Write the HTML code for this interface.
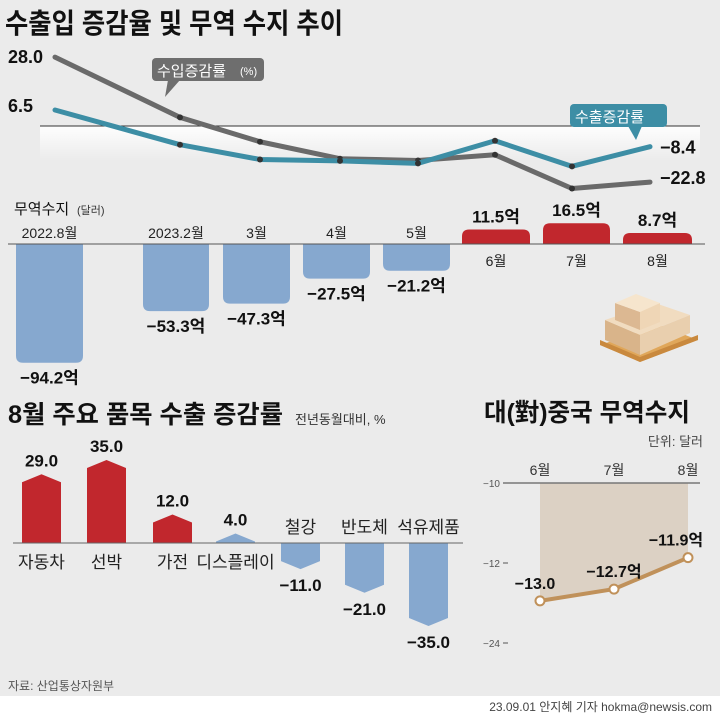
<!DOCTYPE html>
<html><head><meta charset="utf-8">
<style>
body{margin:0;width:720px;height:716px;overflow:hidden;background:#fff;font-family:"Liberation Sans","Noto Sans CJK KR",sans-serif;}
svg text{font-family:"Liberation Sans","Noto Sans CJK KR",sans-serif;}
</style></head>
<body>
<svg id="chart" width="720" height="716" viewBox="0 0 720 716">
<defs>
<linearGradient id="wg" x1="0" y1="0" x2="0" y2="1"><stop offset="0" stop-color="#fff" stop-opacity="0.95"/><stop offset="1" stop-color="#fff" stop-opacity="0"/></linearGradient>
</defs>
<rect x="0" y="0" width="720" height="696" fill="#ebebeb"/>
<text x="5" y="33" font-size="28" font-weight="bold" fill="#111" textLength="338" lengthAdjust="spacingAndGlyphs">수출입 증감율 및 무역 수지 추이</text>
<g id="topc"></g>
<g id="bal"></g>
<text x="8" y="423" font-size="25" font-weight="bold" fill="#111" textLength="275" lengthAdjust="spacingAndGlyphs">8월 주요 품목 수출 증감률</text>
<text x="295" y="424" font-size="13" fill="#333">전년동월대비, %</text>
<g id="items"></g>
<text x="484" y="421" font-size="25" font-weight="bold" fill="#111" textLength="206" lengthAdjust="spacingAndGlyphs">대(對)중국 무역수지</text>
<text x="703" y="446" font-size="13" fill="#444" text-anchor="end">단위: 달러</text>
<g id="china"></g>
<text x="8" y="690" font-size="12" fill="#555">자료: 산업통상자원부</text>
<text x="712" y="711" font-size="12" fill="#444" text-anchor="end">23.09.01 안지혜 기자 hokma@newsis.com</text>
<g>
<polygon points="600,345 640,362 698,340 660,325" fill="#e0a75a"/>
<polygon points="600,340 640,357 698,335 698,340 640,362 600,345" fill="#c9893e"/>
<polygon points="605,320 640,335 640,355 605,340" fill="#d9b48a"/>
<polygon points="640,335 690,315 690,333 640,355" fill="#e9cfae"/>
<polygon points="605,320 640,335 690,315 655,303" fill="#f1dcc0"/>
<polygon points="615,303 640,312 640,330 615,320" fill="#dcb892"/>
<polygon points="640,312 660,303 660,322 640,330" fill="#efd6b6"/>
<polygon points="615,303 640,312 660,303 636,294" fill="#f6e5cd"/>
</g>
</svg>
<script>
var months = ["2022.8월","2023.2월","3월","4월","5월","6월","7월","8월"];
var importRate = [28.0, 3.5, -6.4, -13.3, -14.0, -11.7, -25.4, -22.8];
var exportRate = [6.5, -7.6, -13.6, -14.2, -15.2, -6.0, -16.4, -8.4];
var balance = [-94.2, -53.3, -47.3, -27.5, -21.2, 11.5, 16.5, 8.7];
var balanceLabels = ["-94.2억","-53.3억","-47.3억","-27.5억","-21.2억","11.5억","16.5억","8.7억"];
var items = ["자동차","선박","가전","디스플레이","철강","반도체","석유제품"];
var itemValues = [29.0, 35.0, 12.0, 4.0, -11.0, -21.0, -35.0];
var chinaMonths = ["6월","7월","8월"];
var chinaValues = [-13.0, -12.7, -11.9];
var chinaLabels = ["-13.0","-12.7억","-11.9억"];
var chinaTicks = ["-10","-12","-24"];

var NS="http://www.w3.org/2000/svg";
function mk(tag,attrs,parent,txt){var e=document.createElementNS(NS,tag);for(var k in attrs)e.setAttribute(k,attrs[k]);if(txt!==undefined)e.textContent=txt;parent.appendChild(e);return e;}

var topG=document.getElementById('topc');
var xs=[55,180,260,340,418,495,572,650];
function xTop(i){return xs[i];}
function yTop(v){return 126 - v*2.46;}
var wr=mk('rect',{x:40,y:126,width:660,height:35,fill:'url(#wg)'},topG);


var zl=mk('line',{x1:40,y1:126,x2:700,y2:126,stroke:'#333','stroke-width':1},topG);


function series(vals,color,name){
  var pts=vals.map(function(v,i){return xTop(i)+','+yTop(v);}).join(' ');
  var pl=mk('polyline',{points:pts,fill:'none',stroke:color,'stroke-width':5,'stroke-linejoin':'round','stroke-linecap':'round'},topG);
  
  
  vals.forEach(function(v,i){if(i==0||i==vals.length-1)return;
    var c=mk('circle',{cx:xTop(i),cy:yTop(v),r:3,fill:'#333'},topG);
    
    });
}
series(importRate,'#6a6a6a','import-rate');
series(exportRate,'#3d8ea5','export-rate');
var t;
t=mk('text',{x:8,y:yTop(importRate[0])+6,'font-size':18,'font-weight':'bold',fill:'#111'},topG,importRate[0].toFixed(1));


t=mk('text',{x:8,y:yTop(exportRate[0])+2,'font-size':18,'font-weight':'bold',fill:'#111'},topG,exportRate[0].toFixed(1));


t=mk('text',{x:660,y:yTop(exportRate[7])+7,'font-size':18,'font-weight':'bold',fill:'#111'},topG,'−'+Math.abs(exportRate[7]).toFixed(1));


t=mk('text',{x:660,y:yTop(importRate[7])+2,'font-size':18,'font-weight':'bold',fill:'#111'},topG,'−'+Math.abs(importRate[7]).toFixed(1));


var g1=mk('g',{},topG);


mk('rect',{x:152,y:58,width:112,height:23,rx:4,fill:'#6e6e6e'},g1);
mk('polygon',{points:'168,80 180,80 165,97',fill:'#6e6e6e'},g1);
mk('text',{x:157,y:76,'font-size':15,fill:'#fff'},g1,'수입증감률');
mk('text',{x:240,y:75,'font-size':11,fill:'#fff'},g1,'(%)');
var g2=mk('g',{},topG);


mk('rect',{x:570,y:104,width:97,height:23,rx:4,fill:'#3d8ea5'},g2);
mk('polygon',{points:'628,126 642,126 636,140',fill:'#3d8ea5'},g2);
mk('text',{x:575,y:122,'font-size':15,fill:'#fff'},g2,'수출증감률');

var bal=document.getElementById('bal');
var bx=[16,143,223,303,383,462,543,623];
var bw=[67,66,67,67,67,68,67,69];
function yBal(v){return 244 - v*1.26;}
t=mk('text',{x:14,y:214,'font-size':15,fill:'#111'},bal,'무역수지');


t=mk('text',{x:77,y:214,'font-size':11,fill:'#333'},bal,'(달러)');


balance.forEach(function(v,i){
  var y0=yBal(0), y1=yBal(v), x=bx[i], w=bw[i], r=7;
  var d;
  if(v<0){d='M'+x+','+y0+' H'+(x+w)+' V'+(y1-r)+' Q'+(x+w)+','+y1+' '+(x+w-r)+','+y1+' H'+(x+r)+' Q'+x+','+y1+' '+x+','+(y1-r)+' Z';}
  else{d='M'+x+','+y0+' H'+(x+w)+' V'+(y1+r)+' Q'+(x+w)+','+y1+' '+(x+w-r)+','+y1+' H'+(x+r)+' Q'+x+','+y1+' '+x+','+(y1+r)+' Z';}
  var p=mk('path',{d:d,fill:v<0?'#86a8cf':'#c1272d'},bal);
  
  
  var cx=x+w/2;
  var ml=mk('text',{x:cx,y:v<0?y0-6:y0+22,'font-size':14,fill:'#222','text-anchor':'middle'},bal,months[i]);
  
  
  var vl=mk('text',{x:cx,y:v<0?y1+21:y1-7,'font-size':17,'font-weight':'bold',fill:'#111','text-anchor':'middle'},bal,balanceLabels[i].replace('-','−'));
  
  
});
var bl=mk('line',{x1:8,y1:244,x2:705,y2:244,stroke:'#555','stroke-width':1},bal);



var it=document.getElementById('items');
var ix=[22,87,153,216,281,345,409];
function yItem(v){return 543 - v*2.37;}
items.forEach(function(name,i){
  var v=itemValues[i], x=ix[i], w=39, y0=543, y1=yItem(v);
  var s = v>=0 ? 8 : -8; if(Math.abs(y1-y0)<8) s=(y0-y1);
  var pts=x+','+y0+' '+x+','+(y1+s)+' '+(x+w/2)+','+y1+' '+(x+w)+','+(y1+s)+' '+(x+w)+','+y0;
  var p=mk('polygon',{points:pts,fill:v>5?'#c1272d':'#86a8cf'},it);
  
  
  var cx=x+w/2;
  var lab=mk('text',{x:cx,y:v>=0?y0+25:y0-10,'font-size':17,fill:'#222','text-anchor':'middle'},it,name);
  
  
  var vl=mk('text',{x:cx,y:v>=0?y1-8:y1+22,'font-size':17,'font-weight':'bold',fill:'#111','text-anchor':'middle'},it,(v<0?'−':'')+Math.abs(v).toFixed(1));
  
  
});
var il=mk('line',{x1:13,y1:543,x2:463,y2:543,stroke:'#666','stroke-width':1},it);



var ch=document.getElementById('china');
var cxs=[540,614,688];
function yCh(v){return 483 + (-10 - v)*39.3;}
var tickY=[483,563,643];
chinaTicks.forEach(function(tk,i){
  var tt=mk('text',{x:500,y:tickY[i]+4,'font-size':10,fill:'#555','text-anchor':'end'},ch,tk.replace('-','−'));
  
  
  if(i>0){var tl=mk('line',{x1:503,y1:tickY[i],x2:508,y2:tickY[i],stroke:'#555'},ch);
  
  }
});
var area='M'+cxs[0]+',483 '+chinaValues.map(function(v,i){return 'L'+cxs[i]+','+yCh(v);}).join(' ')+' L'+cxs[2]+',483 Z';
var ar=mk('path',{d:area,fill:'#dcd1c4'},ch);


var al=mk('line',{x1:503,y1:483,x2:700,y2:483,stroke:'#777','stroke-width':1.5},ch);


var cl=mk('polyline',{points:chinaValues.map(function(v,i){return cxs[i]+','+yCh(v);}).join(' '),fill:'none',stroke:'#c0915a','stroke-width':4},ch);


var labOff=[-5,0,-12];
chinaValues.forEach(function(v,i){
  var c=mk('circle',{cx:cxs[i],cy:yCh(v),r:4.5,fill:'#fff',stroke:'#c0915a','stroke-width':2},ch);
  
  
  var m=mk('text',{x:cxs[i],y:475,'font-size':14,fill:'#333','text-anchor':'middle'},ch,chinaMonths[i]);
  
  
  var l=mk('text',{x:cxs[i]+labOff[i],y:yCh(v)-12,'font-size':16,'font-weight':'bold',fill:'#111','text-anchor':'middle'},ch,chinaLabels[i].replace('-','−'));
  
  
});
</script>
</body></html>
